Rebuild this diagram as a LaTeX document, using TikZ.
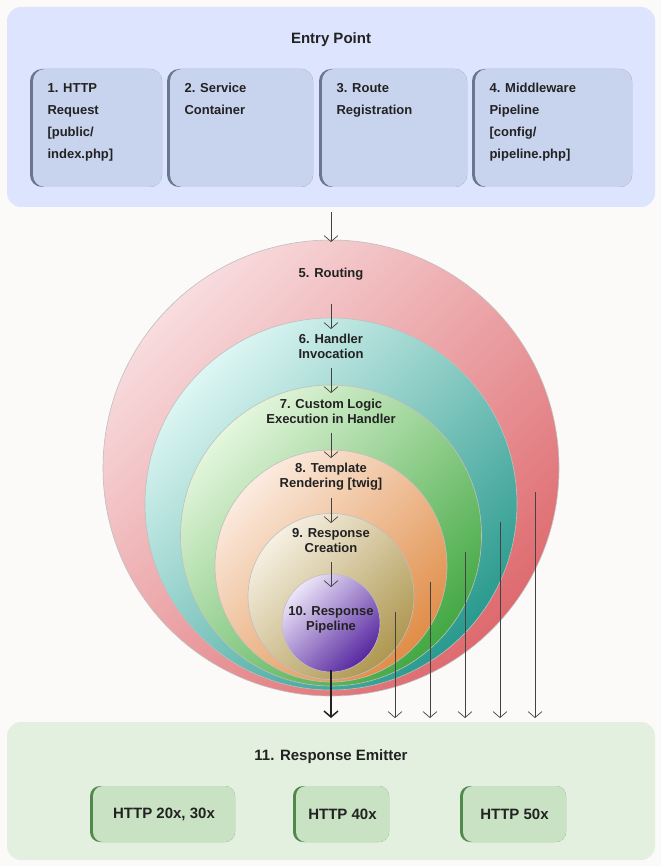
\documentclass[tikz,border=0pt]{standalone}
\usepackage{fontspec}
\setmainfont{Liberation Sans}
\usetikzlibrary{arrows.meta}
\definecolor{bg}{HTML}{FBFAF8}
\definecolor{bluepanel}{HTML}{DCE5FD}
\definecolor{bluebox}{HTML}{C8D3EE}
\definecolor{blueedge}{HTML}{6A7590}
\definecolor{greenpanel}{HTML}{E4F0DF}
\definecolor{greenbox}{HTML}{C9E2C3}
\definecolor{greenedge}{HTML}{4F8A4A}
\definecolor{txt}{HTML}{222222}
\tikzset{
  lbl/.style={font=\bfseries\fontsize{13}{15}\selectfont, text=txt, align=center},
  boxtxt/.style={font=\bfseries\fontsize{13}{22}\selectfont, text=txt, align=left, anchor=north west},
  arr/.style={draw=txt, line width=0.9pt, -{Straight Barb[length=6pt,width=14pt]}},
  thinarr/.style={draw=txt!85, line width=0.7pt, -{Straight Barb[length=6pt,width=14pt]}},
  ring/.style={draw=black!25, line width=0.6pt},
}
\begin{document}
\begin{tikzpicture}[x=1pt,y=-1pt]
\fill[bg] (0,0) rectangle (661,866);
\useasboundingbox (0,0) rectangle (661,866);
% top panel
\fill[bluepanel, rounded corners=14pt] (7,7) rectangle (655,207);
\node[lbl, font=\bfseries\fontsize{15}{17}\selectfont] (entry) at (331,40) {Entry Point};
\foreach \n/\a/\b/\t in {b1/33/162/{1. HTTP\\Request\\{[}public/\\index.php{]}}, b2/170/313/{2. Service\\Container}, b3/322/467/{3. Route\\Registration}, b4/475/632/{4. Middleware\\Pipeline\\{[}config/\\pipeline.php{]}}}{
  \fill[blueedge, rounded corners=12pt] (\a-3,69) rectangle (\b,187);
  \fill[bluebox, rounded corners=12pt] (\a,69) rectangle (\b,187);
  \node[boxtxt] (\n) at (\a+11,80) {\t};
}
% circles
\foreach \cx/\cy/\r/\lc/\dc in {331/468/228/F8DCDE/DE6A6E, 331/504/186/DDF6F3/2A9A8E, 331/535.5/150.5/E4F6DC/43A843, 331/566/116/FBEBDF/E08D47, 331/596.5/83/F6F0E2/AE9750, 331/623/49/ECE6F8/5726A0}{
  \definecolor{lc}{HTML}{\lc}\definecolor{dc}{HTML}{\dc}
  \shade[left color=lc, right color=dc, shading angle=45] (\cx,\cy) circle (\r);
  \draw[ring] (\cx,\cy) circle (\r);
}
\node[lbl] (c5) at (331,274) {5. Routing};
\node[lbl] (c6) at (331,346) {6. Handler\\Invocation};
\node[lbl] (c7) at (331,411) {7. Custom Logic\\Execution in Handler};
\node[lbl] (c8) at (331,477) {8. Template\\Rendering [twig]};
\node[lbl] (c9) at (331,541) {9. Response\\Creation};
\node[lbl] (c10) at (331,620) {10. Response\\Pipeline};
\coordinate (t0) at (331,212); \coordinate (t1) at (331,242);
\draw[thinarr] (t0) -- (t1);
\draw[thinarr] (331,304) -- (331,329);
\draw[thinarr] (331,368) -- (331,393);
\draw[thinarr] (331,433) -- (331,458);
\draw[thinarr] (331,498) -- (331,523);
\draw[thinarr] (331,562) -- (331,587);
\draw[arr, line width=1.5pt] (331,670) -- (331,718);
\foreach \x/\y in {395/612, 430/582, 465/552, 500/522, 535/492}{
  \draw[thinarr] (\x,\y) -- (\x,718);
}
% bottom panel
\fill[greenpanel, rounded corners=14pt] (7,722) rectangle (655,860);
\node[lbl, font=\bfseries\fontsize{15}{17}\selectfont] (emit) at (331,757) {11. Response Emitter};
\foreach \n/\a/\b/\t in {h1/93/235/{HTTP 20x, 30x}, h2/296/389/{HTTP 40x}, h3/463/566/{HTTP 50x}}{
  \fill[greenedge, rounded corners=10pt] (\a-3,786) rectangle (\b,842);
  \fill[greenbox, rounded corners=10pt] (\a,786) rectangle (\b,842);
  \node[lbl, font=\bfseries\fontsize{15}{17}\selectfont] (\n) at ({(\a+\b)/2},814) {\t};
}
\end{tikzpicture}
\end{document}
